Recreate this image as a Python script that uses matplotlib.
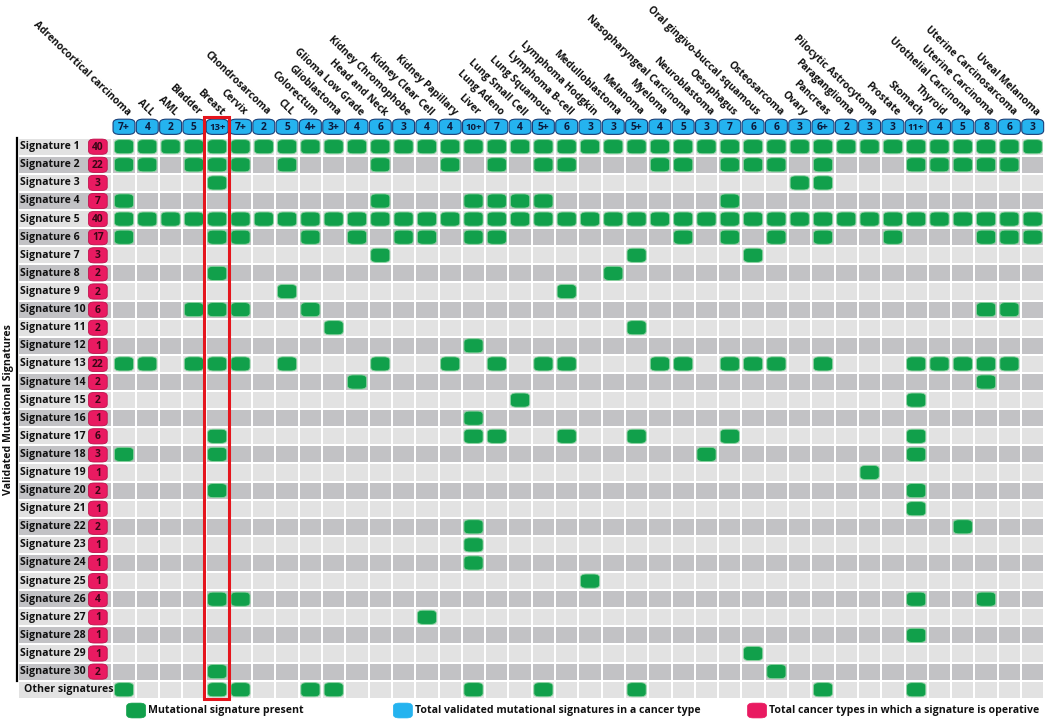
import matplotlib
matplotlib.use('Agg')
import matplotlib.pyplot as plt
from matplotlib.patches import FancyBboxPatch, Rectangle

plt.rcParams['font.family'] = ['Open Sans', 'DejaVu Sans']

cancer_types = ['Adrenocortical carcinoma', 'ALL', 'AML', 'Bladder', 'Breast', 'Cervix',
                'Chondrosarcoma', 'CLL', 'Colorectum', 'Glioblastoma', 'Glioma Low Grade',
                'Head and Neck', 'Kidney Chromophobe', 'Kidney Clear Cell', 'Kidney Papillary',
                'Liver', 'Lung Adeno', 'Lung Small Cell', 'Lung Squamous', 'Lymphoma B-cell',
                'Lymphoma Hodgkin', 'Medulloblastoma', 'Melanoma', 'Myeloma',
                'Nasopharyngeal Carcinoma', 'Neuroblastoma', 'Oesophagus',
                'Oral gingivo-buccal squamous', 'Osteosarcoma', 'Ovary', 'Pancreas',
                'Paraganglioma', 'Pilocytic Astrocytoma', 'Prostate', 'Stomach', 'Thyroid',
                'Urothelial Carcinoma', 'Uterine Carcinoma', 'Uterine Carcinosarcoma',
                'Uveal Melanoma']
type_totals = ['7+', '4', '2', '5', '13+', '7+', '2', '5', '4+', '3+',
               '4', '6', '3', '4', '4', '10+', '7', '4', '5+', '6',
               '3', '3', '5+', '4', '5', '3', '7', '6', '6', '3',
               '6+', '2', '3', '3', '11+', '4', '5', '8', '6', '3']

signatures = ['Signature %d' % i for i in range(1, 31)] + ['Other signatures']
sig_totals = ['40', '22', '3', '7', '40', '17', '3', '2', '2', '6',
              '2', '1', '22', '2', '2', '1', '6', '3', '1', '2',
              '1', '2', '1', '1', '1', '4', '1', '1', '1', '2', '']

# one string per signature, one character per cancer type (# = present)
presence = [
    '########## ########## ########## ##########',
    '##.###.#.. .#..#.#.## ...##.###. #...#####.',
    '....#..... .......... .........# #.........',
    '#......... .#...####. ......#... ..........',
    '########## ########## ########## ##########',
    '#...##..#. #.##.##... ....#.#.#. #..#...###',
    '.......... .#........ ..#....#.. ..........',
    '....#..... .......... .#........ ..........',
    '.......#.. .........# .......... ..........',
    '...###..#. .......... .......... .......##.',
    '.........# .......... ..#....... ..........',
    '.......... .....#.... .......... ..........',
    '##.###.#.. .#..#.#.## ...##.###. #...#####.',
    '.......... #......... .......... .......#..',
    '.......... .......#.. .......... ....#.....',
    '.......... .....#.... .......... ..........',
    '....#..... .....##..# ..#...#... ....#.....',
    '#...#..... .......... .....#.... ....#.....',
    '.......... .......... .......... ..#.......',
    '....#..... .......... .......... ....#.....',
    '.......... .......... .......... ....#.....',
    '.......... .....#.... .......... ......#...',
    '.......... .....#.... .......... ..........',
    '.......... .....#.... .......... ..........',
    '.......... .......... #......... ..........',
    '....##.... .......... .......... ....#..#..',
    '.......... ...#...... .......... ..........',
    '.......... .......... .......... ....#.....',
    '.......... .......... .......#.. ..........',
    '....#..... .......... ........#. ..........',
    '#...##..## .....#..#. ..#....... #...#.....',
]
highlight = 'Breast'

legend_items = [('Mutational signature present', '#11a04b'),
                ('Total validated mutational signatures in a cancer type', '#25b3ef'),
                ('Total cancer types in which a signature is operative', '#e91a61')]

GREEN, BLUE, PINK = '#11a04b', '#25b3ef', '#e91a61'
LIGHT, DARK = '#e2e2e2', '#c2c2c5'
COL_PX, ROW_PX = 23.3, 18.1
X0_PX, Y0_PX = 124, 146.7
W, H = 1050, 720
asp = COL_PX / ROW_PX
FS = 7.6

fig = plt.figure(figsize=(W / 100, H / 100), dpi=100)
ax = fig.add_axes([0, 0, 1, 1])
ax.set_xlim(-X0_PX / COL_PX, (W - X0_PX) / COL_PX)
ax.set_ylim((H - Y0_PX) / ROW_PX, -Y0_PX / ROW_PX)
ax.axis('off')

ncol = len(cancer_types)
gx, gy = 2 / COL_PX, 2 / ROW_PX


def pill(x, y, w, h, fc, ec, lw=0.7, z=3):
    p = FancyBboxPatch((x - w / 2, y - h / 2), w, h,
                       boxstyle='round,pad=0,rounding_size=%f' % (0.3 * min(w, h * asp)),
                       mutation_aspect=1 / asp, fc=fc, ec=ec, lw=lw, zorder=z)
    ax.add_patch(p)


for r, (sig, tot, row) in enumerate(zip(signatures, sig_totals, presence)):
    row = row.replace(' ', '')
    bg = LIGHT if r % 2 == 0 else DARK
    ax.add_patch(Rectangle((-4.52, r - 0.5 + gy / 2), 4.02 - gx / 2, 1 - gy,
                           fc=bg, ec='none', zorder=1))
    for c in range(ncol):
        ax.add_patch(Rectangle((c - 0.5 + gx / 2, r - 0.5 + gy / 2), 1 - gx, 1 - gy,
                               fc=bg, ec='none', zorder=1))
        if row[c] == '#':
            pill(c, r, 0.82, 0.78, GREEN, '#8ad3a0', lw=0.6)
    ax.text(-4.45 if tot else -4.3, r, sig, ha='left', va='center', fontsize=FS,
            fontweight='bold', color='#111111', zorder=4)
    if tot:
        pill(-1.12, r, 0.8, 0.84, PINK, '#c0104c', lw=0.6)
        ax.text(-1.12, r + 0.03, tot, ha='center', va='center', fontsize=7.4,
                fontweight='bold', color='#3a0716', zorder=4)

for c, (name, tot) in enumerate(zip(cancer_types, type_totals)):
    pill(c, -1.1, 0.94, 0.84, BLUE, '#1b3f78', lw=0.8)
    ax.text(c, -1.07, tot, ha='center', va='center', fontsize=7.4 if len(tot) < 3 else 6.8,
            fontweight='bold', color='#0b1b3c', zorder=4)
    ax.text(c + 0.05, -1.6, name, rotation=-44, rotation_mode='anchor',
            ha='right', va='bottom', fontsize=7.3, fontweight='bold', color='#111111')

# left bracket and axis title
nsig = len(signatures) - 1
ax.plot([-4.6, -4.6], [-0.5, nsig - 0.5], color='black', lw=1.6, zorder=2)
ax.text(-4.97, (nsig - 1) / 2, 'Validated Mutational Signatures', rotation=90,
        ha='center', va='center', fontsize=FS, fontweight='bold', color='#111111')

# highlighted column
hc = cancer_types.index(highlight)
ax.add_patch(Rectangle((hc - 0.58, -1.64), 1.08, len(signatures) + 0.66 + 0.5,
                       fill=False, ec='#e5151d', lw=2.2, zorder=5))

# legend
ly = len(signatures) + 0.15
for (label, col), lx in zip(legend_items, [0.52, 11.97, 27.17]):
    pill(lx, ly, 0.82, 0.82, col, col, lw=0.5)
    ax.text(lx + 0.5, ly, label, ha='left', va='center', fontsize=FS,
            fontweight='bold', color='#111111')

fig.savefig('out.png', dpi=100, facecolor='white')
